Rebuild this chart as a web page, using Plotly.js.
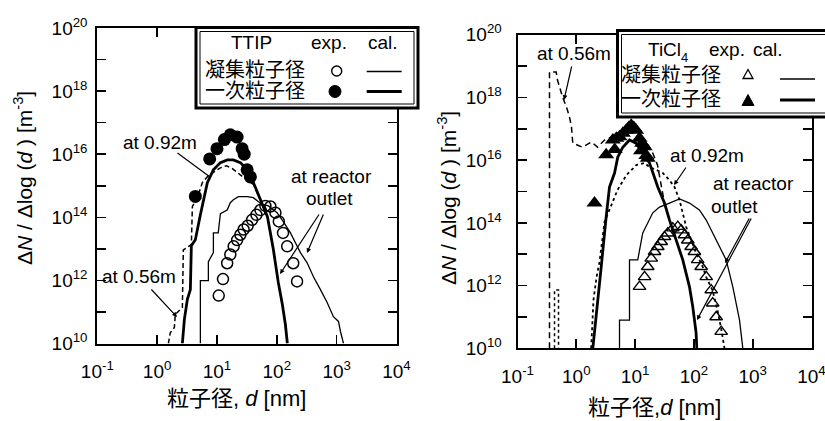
<!DOCTYPE html>
<html><head><meta charset="utf-8">
<script src="https://cdn.plot.ly/plotly-3.0.1.min.js"></script>
<style>html,body{margin:0;padding:0;background:#fff;}#chart{width:825px;height:421px;}</style>
</head><body><div id="chart"></div>
<script>
// ---------- tick labels ----------
const xTickVals = [0.1, 1, 10, 100, 1000, 10000];
const xTickText = ['10<sup>-1</sup>','10<sup>0</sup>','10<sup>1</sup>','10<sup>2</sup>','10<sup>3</sup>','10<sup>4</sup>'];
const yTickVals = [1e10,1e11,1e12,1e13,1e14,1e15,1e16,1e17,1e18,1e19,1e20];
const yTickText = ['10<sup>10</sup>','','10<sup>12</sup>','','10<sup>14</sup>','','10<sup>16</sup>','','10<sup>18</sup>','','10<sup>20</sup>'];

// ---------- TTIP panel (left) ----------
const ttipAggExpD = [10.7,12.6,14.8,16.7,19.0,21.7,24.6,27.9,32.6,38.6,45.6,53.2,64.4,78.2,94.8,108,127,149,188,218];
const ttipAggExpN = [3.3e11,1.1e12,3.5e12,6.6e12,1.2e13,1.9e13,2.8e13,4.1e13,5.4e13,8.3e13,1.2e14,1.7e14,2.3e14,2.2e14,1.4e14,7.4e13,3.2e13,1.2e13,3.5e12,9.3e11];
const ttipPrimExpD = [4.35,7.55,10.0,13.3,16.7,21.7,26.3,28.5,31.9,36.2];
const ttipPrimExpN = [4.6e14,7.1e15,1.5e16,2.9e16,4.1e16,3.5e16,1.5e16,1.0e16,3.2e15,1.9e15];
const ttip056D = [1.54,1.66,1.94,2.01,2.64,2.74,3.73,3.88,4.70,5.70,7.18,9.06,11.4,14.4,18.1,24.6,32.2,40.6,53.2,69.7,87.7,106,124,139,150];
const ttip056N = [1e10,2.2e10,3.2e10,8.3e10,1.4e11,9.3e12,1.35e13,2.2e14,4.2e14,1.26e15,2.1e15,2.75e15,3.7e15,4.3e15,3.5e15,2.2e15,1.5e15,1.1e15,3.6e14,1.05e14,9.3e12,8.5e11,1.7e11,4.0e10,1e10];
const ttip092D = [2.64,2.85,3.20,3.59,3.73,4.35,5.28,5.93,6.90,8.71,11.4,14.9,18.8,24.6,32.2,40.6,53.2,69.7,87.7,106,124,139,150];
const ttip092N = [1e10,5.7e10,2.5e11,5.1e11,1.26e13,1.95e13,1.2e14,3.6e14,1.26e15,3.2e15,5.4e15,6.6e15,6.6e15,5.4e15,3.2e15,1.26e15,3.6e14,1.05e14,9.3e12,8.5e11,1.7e11,4.0e10,1e10];
const ttipOutD = [5.28,5.28,7.18,7.18,8.71,8.71,10.5,11.4,14.8,16.7,18.8,22.8,32.2,40.6,49.2,59.7,72.4,101,129,169,213,248,321,409,536,693,883,1072,1158,1300];
const ttipOutN = [1e10,9.8e11,9.8e11,3.9e12,7.6e12,3.2e13,3.2e13,1.3e14,1.7e14,2.9e14,3.6e14,4.5e14,4.5e14,4.2e14,3.1e14,2.5e14,2.3e14,1.4e14,7.2e13,3.2e13,1.35e13,7.6e12,3.6e12,1.3e12,5.1e11,2.0e11,7.1e10,5.0e10,2.4e10,1e10];

// ---------- TiCl4 panel (right) ----------
const ticlAggExpD = [11.9,14.5,16.4,18.8,21.4,24.3,27.8,31.6,36.0,43.8,53.2,60.8,69.2,78.7,89.9,102,116,133,162,197,209,239,291];
const ticlAggExpN = [9.3e11,1.9e12,4.0e12,7.4e12,1.2e13,1.74e13,2.5e13,3.6e13,4.7e13,6.8e13,7.6e13,5.9e13,4.1e13,2.8e13,1.74e13,1.2e13,6.6e12,4.0e12,1.9e12,7.2e11,2.75e11,1.0e11,3.4e10];
const ticlPrimExpD = [2.04,3.22,4.18,4.5,4.8,5.43,6.2,7.06,7.8,8.59,9.5,10.4,11.9,12.6,13.2,14.5,15.5,16.4];
const ticlPrimExpN = [4.3e14,1.5e16,4.4e16,2.2e16,5.0e16,5.6e16,7.2e16,9.1e16,1.1e17,1.3e17,1.1e17,9.1e16,5.0e16,2.0e16,3.5e16,2.7e16,1.4e16,1.15e16];
const ticl056D = [0.350,0.350,0.455,0.479,0.582,0.681,0.766,0.828,0.871,1.27,1.81,2.30,3.02,3.97,5.43,8.03,11.0,14.5,19.0,24.0,31.6,38.5,50.0,64.7,84.1,95.7,109,112];
const ticl056N = [1e10,6.5e18,6.5e18,3.6e18,1.05e18,5.0e17,2.4e17,1.15e17,3.5e16,2.6e16,3.8e16,2.6e16,4.4e16,5.5e16,7.9e16,1.23e17,9.1e16,4.4e16,2.1e16,7.1e15,4.3e14,1.23e14,2.8e13,6.6e12,9.1e11,2.1e11,3.1e10,1e10];
const ticlSpikeD = [0.426,0.426,0.498,0.498];
const ticlSpikeN = [1e10,7.2e11,7.2e11,1e10];
const ticlPrimCalD = [1.91,2.18,2.65,3.22,3.67,4.47,5.08,6.18,8.03,10.4,13.5,17.6,24.3,31.6,38.5,50.0,64.7,84.1,95.7,109,112];
const ticlPrimCalN = [1e10,1.35e11,3.9e12,1.55e14,1.4e15,3.9e15,1.26e16,2.6e16,4.4e16,3.5e16,1.7e16,8.1e15,1.4e15,4.3e14,1.23e14,2.8e13,6.6e12,9.1e11,2.1e11,3.1e10,1e10];
const ticl092D = [1.79,1.96,2.21,2.48,3.02,3.97,5.02,7.14,10.6,14.5,17.6,22.9,29.6,38.5,46.8,56.9,64.7,74.0,89.9,109,142,162,207,252,294,331];
const ticl092N = [1e10,3.5e11,1.86e12,5.6e12,1.07e14,3.7e14,1.12e15,3.4e15,7.1e15,8.1e15,6.0e15,4.9e15,3.9e15,2.3e15,1.4e15,5.4e14,2.1e14,7.4e13,2.8e13,1.1e13,3.9e12,1.86e12,7.2e11,1.66e11,3.8e10,1e10];
const ticlOutD = [5.43,5.43,8.03,8.03,11.1,13.5,20.0,26.0,38.5,56.9,84.1,124,162,209,272,354,459,597,679];
const ticlOutN = [1e10,7.9e10,7.9e10,6.6e12,6.6e12,4.8e13,2.1e14,3.2e14,4.3e14,5.8e14,4.3e14,2.6e14,1.23e14,4.8e13,1.7e13,6.6e12,9.1e11,7.9e10,1e10];

// ---------- helpers (layout only) ----------
const W = 825, H = 421;
const px = v => v / W;
const py = v => 1 - v / H;
const FONT = 'Liberation Sans, Arial, Noto Sans CJK JP, sans-serif';

function line(x, y, xa, ya, width, dash) {
  return {x, y, xaxis: xa, yaxis: ya, mode: 'lines', line: {color: 'black', width, dash: dash || 'solid'}, hoverinfo: 'skip'};
}
function pts(x, y, xa, ya, symbol, size, lw) {
  return {x, y, xaxis: xa, yaxis: ya, mode: 'markers', hoverinfo: 'skip',
    marker: {symbol, size, color: 'black', line: {color: 'black', width: lw}}};
}

const traces = [
  line(ttip056D, ttip056N, 'x', 'y', 1.5, '5px,3px'),
  line(ttipOutD, ttipOutN, 'x', 'y', 1.3),
  line(ttip092D, ttip092N, 'x', 'y', 2.8),
  pts(ttipAggExpD, ttipAggExpN, 'x', 'y', 'circle-open', 11, 1.5),
  pts(ttipPrimExpD, ttipPrimExpN, 'x', 'y', 'circle', 13, 0),

  line(ticl056D, ticl056N, 'x2', 'y2', 1.5, '6px,4px'),
  line(ticlSpikeD, ticlSpikeN, 'x2', 'y2', 1.5, 'dot'),
  line(ticl092D, ticl092N, 'x2', 'y2', 1.8, 'dot'),
  line(ticlOutD, ticlOutN, 'x2', 'y2', 1.3),
  line(ticlPrimCalD, ticlPrimCalN, 'x2', 'y2', 2.8),
  pts(ticlAggExpD, ticlAggExpN, 'x2', 'y2', 'triangle-up-open', 11, 1.4),
  pts(ticlPrimExpD, ticlPrimExpN, 'x2', 'y2', 'triangle-up', 14, 0)
];

function axisBase(extra) {
  return Object.assign({
    type: 'log', showline: true, linecolor: 'black', linewidth: 2, mirror: 'ticks',
    ticks: 'inside', ticklen: 9, tickwidth: 1.6, tickcolor: 'black',
    showgrid: false, zeroline: false, automargin: false, fixedrange: true,
    ticklabeloverflow: 'allow',
    tickfont: {family: FONT, size: 19, color: 'black'}
  }, extra);
}

function txt(x, y, text, size, extra) {
  return Object.assign({xref: 'paper', yref: 'paper', x: px(x), y: py(y), text, showarrow: false,
    xanchor: 'center', yanchor: 'middle', font: {family: FONT, size, color: 'black'}}, extra || {});
}
function arr(hx, hy, tx, ty, head) {
  return {xref: 'paper', yref: 'paper', x: px(hx), y: py(hy), ax: tx - hx, ay: ty - hy,
    text: '', showarrow: true, arrowhead: head, arrowsize: 0.8, arrowwidth: 1.2,
    arrowcolor: 'black', standoff: 0, startstandoff: 0};
}
function rect(x0, y0, x1, y1, w, fill) {
  return {type: 'rect', xref: 'paper', yref: 'paper', x0: px(x0), x1: px(x1), y0: py(y1), y1: py(y0),
    line: {color: 'black', width: w}, fillcolor: fill, layer: 'above'};
}
function circ(cx, cy, r, fill, w) {
  return {type: 'circle', xref: 'paper', yref: 'paper', x0: px(cx - r), x1: px(cx + r), y0: py(cy + r), y1: py(cy - r),
    line: {color: 'black', width: w}, fillcolor: fill, layer: 'above'};
}
function hl(x0, x1, y, w) {
  return {type: 'line', xref: 'paper', yref: 'paper', x0: px(x0), x1: px(x1), y0: py(y), y1: py(y),
    line: {color: 'black', width: w}, layer: 'above'};
}
function tri(cx, cy, hw, hh, fill, w) {
  return {type: 'path', xref: 'paper', yref: 'paper',
    path: 'M ' + px(cx - hw) + ',' + py(cy + hh) + ' L ' + px(cx + hw) + ',' + py(cy + hh) + ' L ' + px(cx) + ',' + py(cy - hh) + ' Z',
    line: {color: 'black', width: w}, fillcolor: fill, layer: 'above'};
}

const yTitle = 'Δ<i>N</i> / Δlog (<i>d</i> ) [m<sup>-3</sup>]';

const layout = {
  width: W, height: H, margin: {l: 0, r: 0, t: 0, b: 0},
  paper_bgcolor: 'white', plot_bgcolor: 'white', showlegend: false,
  font: {family: FONT, color: 'black'},
  xaxis: axisBase({domain: [px(97.3), px(396.5)], range: [-1, 4], anchor: 'y',
    tickvals: xTickVals, ticktext: xTickText, ticklabelstandoff: 10}),
  yaxis: axisBase({domain: [py(343.5), py(28)], range: [10, 20], anchor: 'x',
    tickvals: yTickVals, ticktext: yTickText, ticklabelstandoff: 4}),
  xaxis2: axisBase({domain: [px(517.5), px(811.5)], range: [-1, 4], anchor: 'y2',
    tickvals: xTickVals, ticktext: xTickText, ticklabelstandoff: 10}),
  yaxis2: axisBase({domain: [py(348.3), py(34.8)], range: [10, 20], anchor: 'x2',
    tickvals: yTickVals, ticktext: yTickText, ticklabelstandoff: 10}),
  shapes: [
    rect(196, 27.5, 418, 108, 3, 'white'),
    rect(200, 31.5, 414, 104, 1, 'rgba(0,0,0,0)'),
    circ(336.7, 71, 5, 'white', 1.4),
    circ(335, 91.5, 6, 'black', 1),
    hl(366.7, 401.7, 71.5, 1.5),
    hl(366.7, 401.7, 91.5, 3),
    rect(617.5, 30.5, 832, 117, 3, 'white'),
    rect(621.5, 34.5, 830, 113, 1, 'rgba(0,0,0,0)'),
    tri(748, 74, 5, 4.5, 'white', 1.3),
    tri(748, 100, 6, 5.5, 'black', 1),
    hl(780, 815, 79, 1.5),
    hl(780, 815, 100, 3)
  ],
  annotations: [
    txt(23, 178, yTitle, 21, {textangle: -90}),
    txt(236, 398, '粒子径, <i>d</i> [nm]', 22),
    txt(160, 142, 'at 0.92m', 19),
    txt(139, 276, 'at 0.56m', 19),
    txt(331.7, 176, 'at reactor', 19),
    txt(329, 198, 'outlet', 19),
    arr(210, 177, 176, 152, 0),
    arr(177, 317, 150, 288, 2),
    arr(280, 274, 320, 213, 2),
    arr(307, 253, 324, 213, 2),
    txt(251, 42.5, 'TTIP', 19),
    txt(329, 42.5, 'exp.', 19),
    txt(383, 42.5, 'cal.', 19),
    txt(255, 70, '凝集粒子径', 20),
    txt(255, 91.5, '一次粒子径', 20),

    txt(447, 198, yTitle, 21, {textangle: -90}),
    txt(654.5, 407, '粒子径,<i>d</i> [nm]', 22),
    txt(574, 54, 'at 0.56m', 19),
    txt(707, 155, 'at 0.92m', 19),
    txt(753, 183, 'at reactor', 19),
    txt(734, 206, 'outlet', 19),
    arr(564, 100, 572, 65, 2),
    arr(674, 185, 687, 166, 2),
    arr(725, 263, 750, 217, 2),
    arr(697, 320, 752, 217, 2),
    txt(664, 50, 'TiCl', 19),
    txt(684, 57, '4', 13),
    txt(727, 50, 'exp.', 19),
    txt(768, 50, 'cal.', 19),
    txt(671, 75, '凝集粒子径', 20),
    txt(671, 99, '一次粒子径', 20)
  ]
};

Plotly.newPlot('chart', traces, layout, {displayModeBar: false, staticPlot: true});
</script></body></html>
